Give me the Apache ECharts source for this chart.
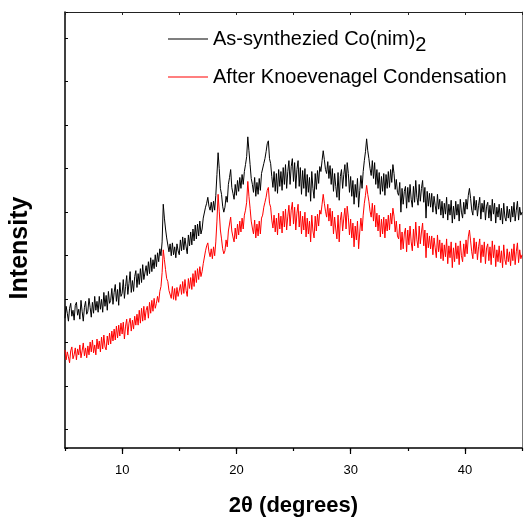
<!DOCTYPE html>
<html>
<head>
<meta charset="utf-8">
<script src="https://cdn.jsdelivr.net/npm/echarts@6/dist/echarts.min.js"></script>
<style>
html,body{margin:0;padding:0;background:#fff;}
#chart{width:528px;height:522px;}
</style>
</head>
<body>
<div id="chart"></div>
<script>
// 2-theta positions (degrees)
const twoTheta = [
5.0,5.1,5.2,5.3,5.4,5.5,5.6,5.7,5.8,5.9,
6.0,6.1,6.2,6.3,6.4,6.5,6.6,6.7,6.8,6.9,
7.0,7.1,7.2,7.3,7.4,7.5,7.6,7.7,7.8,7.9,
8.0,8.1,8.2,8.3,8.4,8.5,8.6,8.7,8.8,8.9,
9.0,9.1,9.2,9.3,9.4,9.5,9.6,9.7,9.8,9.9,
10.0,10.1,10.2,10.3,10.4,10.5,10.6,10.7,10.8,10.9,
11.0,11.1,11.2,11.3,11.4,11.5,11.6,11.7,11.8,11.9,
12.0,12.1,12.2,12.3,12.4,12.5,12.6,12.7,12.8,12.9,
13.0,13.1,13.2,13.3,13.4,13.5,13.6,13.7,13.8,13.9,
14.0,14.1,14.2,14.3,14.4,14.5,14.6,14.7,14.8,14.9,
15.0,15.1,15.2,15.3,15.4,15.5,15.6,15.7,15.8,15.9,
16.0,16.1,16.2,16.3,16.4,16.5,16.6,16.7,16.8,16.9,
17.0,17.1,17.2,17.3,17.4,17.5,17.6,17.7,17.8,17.9,
18.0,18.1,18.2,18.3,18.4,18.5,18.6,18.7,18.8,18.9,
19.0,19.1,19.2,19.3,19.4,19.5,19.6,19.7,19.8,19.9,
20.0,20.1,20.2,20.3,20.4,20.5,20.6,20.7,20.8,20.9,
21.0,21.1,21.2,21.3,21.4,21.5,21.6,21.7,21.8,21.9,
22.0,22.1,22.2,22.3,22.4,22.5,22.6,22.7,22.8,22.9,
23.0,23.1,23.2,23.3,23.4,23.5,23.6,23.7,23.8,23.9,
24.0,24.1,24.2,24.3,24.4,24.5,24.6,24.7,24.8,24.9,
25.0,25.1,25.2,25.3,25.4,25.5,25.6,25.7,25.8,25.9,
26.0,26.1,26.2,26.3,26.4,26.5,26.6,26.7,26.8,26.9,
27.0,27.1,27.2,27.3,27.4,27.5,27.6,27.7,27.8,27.9,
28.0,28.1,28.2,28.3,28.4,28.5,28.6,28.7,28.8,28.9,
29.0,29.1,29.2,29.3,29.4,29.5,29.6,29.7,29.8,29.9,
30.0,30.1,30.2,30.3,30.4,30.5,30.6,30.7,30.8,30.9,
31.0,31.1,31.2,31.3,31.4,31.5,31.6,31.7,31.8,31.9,
32.0,32.1,32.2,32.3,32.4,32.5,32.6,32.7,32.8,32.9,
33.0,33.1,33.2,33.3,33.4,33.5,33.6,33.7,33.8,33.9,
34.0,34.1,34.2,34.3,34.4,34.5,34.6,34.7,34.8,34.9,
35.0,35.1,35.2,35.3,35.4,35.5,35.6,35.7,35.8,35.9,
36.0,36.1,36.2,36.3,36.4,36.5,36.6,36.7,36.8,36.9,
37.0,37.1,37.2,37.3,37.4,37.5,37.6,37.7,37.8,37.9,
38.0,38.1,38.2,38.3,38.4,38.5,38.6,38.7,38.8,38.9,
39.0,39.1,39.2,39.3,39.4,39.5,39.6,39.7,39.8,39.9,
40.0,40.1,40.2,40.3,40.4,40.5,40.6,40.7,40.8,40.9,
41.0,41.1,41.2,41.3,41.4,41.5,41.6,41.7,41.8,41.9,
42.0,42.1,42.2,42.3,42.4,42.5,42.6,42.7,42.8,42.9,
43.0,43.1,43.2,43.3,43.4,43.5,43.6,43.7,43.8,43.9,
44.0,44.1,44.2,44.3,44.4,44.5,44.6,44.7,44.8,44.9,
45.0
];
// As-synthezied Co(nim)2 intensity (a.u.)
const asSynthesized = [
131,143,136,128,141,146,133,139,129,144,
147,134,140,130,149,138,128,142,148,135,
138,151,142,132,147,136,153,139,148,137,
153,140,150,137,157,143,154,139,158,146,
149,161,145,157,165,148,160,144,167,153,
156,170,151,163,174,155,166,178,157,169,
158,173,179,162,176,165,181,167,185,170,
170,184,174,188,176,192,178,190,181,195,
183,197,188,201,194,208,246,232,221,212,
210,198,206,194,207,195,203,192,206,199,
195,210,199,213,200,212,203,196,215,204,
218,205,221,209,225,211,226,214,229,216,
221,232,230,243,247,253,244,240,248,238,
249,240,255,276,298,282,262,256,244,238,
243,254,248,266,273,281,263,257,251,266,
255,270,259,273,262,276,266,279,286,294,
314,300,286,272,266,258,273,254,268,256,
272,260,277,279,287,292,299,307,310,292,
287,274,263,279,259,277,257,281,264,279,
260,283,266,286,262,279,290,266,284,292,
269,288,262,281,290,264,283,256,280,262,
282,254,276,258,273,249,279,262,252,277,
261,280,267,284,279,290,300,291,281,277,
289,272,285,266,282,259,277,264,253,278,
250,274,281,262,276,286,264,288,277,258,
274,254,270,246,266,253,272,243,260,275,
262,279,290,299,312,300,292,282,275,290,
272,288,266,281,262,278,256,274,259,277,
255,276,262,279,263,281,268,286,277,261,
271,258,255,268,238,262,246,259,264,242,
263,248,266,251,243,264,248,270,253,245,
266,249,262,270,248,263,232,259,244,257,
243,257,238,254,245,236,256,241,251,235,
249,232,247,236,253,230,246,235,250,227,
244,231,249,235,246,229,251,238,232,248,
236,251,241,255,262,252,240,235,254,240,
250,234,245,253,231,247,238,250,230,244,
248,232,245,229,251,236,247,227,243,233,
246,230,242,226,247,233,229,244,232,241,
228,244,233,248,229,240,249,230,243,235,
238
];
// After Knoevenagel Condensation intensity (a.u.)
const afterKnoevenagel = [
99,89,97,92,86,98,102,90,94,101,
89,100,94,104,91,98,106,93,101,91,
103,94,107,97,109,96,104,94,110,100,
108,97,112,100,114,102,99,113,104,116,
105,118,108,120,109,123,111,124,113,126,
115,127,110,123,130,114,126,131,118,129,
120,133,124,135,124,139,126,141,128,143,
129,139,143,131,147,136,149,138,151,141,
146,153,147,158,163,177,200,190,180,171,
168,159,161,151,163,150,161,149,162,153,
151,165,155,168,156,170,159,153,171,161,
172,160,176,163,179,167,181,170,183,173,
178,186,188,199,204,207,198,193,201,191,
203,194,208,229,256,239,220,211,201,196,
199,210,203,219,226,233,219,213,208,222,
211,226,215,229,218,232,221,235,240,248,
269,254,242,229,222,216,230,212,226,214,
229,216,232,235,243,248,253,260,263,247,
243,230,222,235,218,232,215,237,221,234,
217,239,223,241,220,234,245,224,240,248,
226,243,220,237,246,223,239,216,234,220,
238,213,232,216,229,208,235,219,212,234,
219,236,224,240,236,246,256,247,239,233,
246,229,242,224,239,216,233,221,211,235,
208,230,238,219,232,242,221,244,233,215,
231,212,227,203,224,210,229,201,218,232,
219,235,247,255,265,256,249,239,233,247,
229,245,223,237,219,235,213,231,216,233,
212,231,219,235,220,237,226,242,234,218,
229,214,211,226,200,218,201,216,222,198,
220,205,224,208,199,221,204,228,210,202,
224,206,218,227,204,220,192,217,202,214,
201,214,195,212,202,192,215,198,210,191,
207,189,205,193,211,186,204,192,208,182,
202,188,207,191,204,185,209,194,188,206,
193,210,196,213,220,209,198,191,212,196,
208,190,203,211,187,205,193,208,186,202,
206,189,203,185,209,192,205,183,200,188,
204,187,199,182,205,190,185,201,188,198,
184,201,189,206,185,198,207,187,200,191,
195
];
const seriesNames = ['As-synthezied Co(nim)2', 'After Knoevenagel Condensation'];
const xTickLabels = [10, 20, 30, 40];

const sans = "'Liberation Sans', Arial, sans-serif";
const chart = echarts.init(document.getElementById('chart'), null, {renderer: 'canvas'});

const pairs = arr => twoTheta.map((x, i) => [x, arr[i]]);

const legendText = {
  fontFamily: sans, fontSize: 20, color: '#000',
  rich: { sub: { fontFamily: sans, fontSize: 20, color: '#000', padding: [12, 0, 0, 0], verticalAlign: 'bottom' } }
};
const legendFmt = n => n === seriesNames[0] ? 'As-synthezied Co(nim){sub|2}' : n;

chart.setOption({
  animation: false,
  backgroundColor: '#fff',
  grid: { left: 62, right: 6, top: 12, bottom: 70, containLabel: false },
  legend: [
    { data: [seriesNames[0]], left: 168, top: 29, padding: 0, orient: 'vertical', icon: 'rect',
      itemWidth: 40, itemHeight: 1, formatter: legendFmt, textStyle: legendText, selectedMode: false },
    { data: [seriesNames[1]], left: 168, top: 67, padding: 0, orient: 'vertical', icon: 'rect',
      itemWidth: 40, itemHeight: 1, formatter: legendFmt, textStyle: legendText, selectedMode: false }
  ],
  xAxis: [
    { type: 'value', min: 5, max: 45, minInterval: 10, maxInterval: 10, position: 'bottom',
      axisLine: { show: true, onZero: false, lineStyle: { color: '#000', width: 1.5 } },
      axisTick: { show: true, inside: false, length: 6, lineStyle: { color: '#000', width: 1.2 } },
      axisLabel: { show: true, margin: 16, fontFamily: sans, fontSize: 13, color: '#000',
        showMinLabel: false, showMaxLabel: false,
        formatter: v => xTickLabels.indexOf(v) >= 0 ? String(v) : '' },
      splitLine: { show: false },
      name: '2θ (degrees)', nameLocation: 'middle', nameGap: 47,
      nameTextStyle: { fontFamily: sans, fontSize: 22, fontWeight: 'bold', color: '#000' } },
    { type: 'value', min: 5, max: 45, interval: 5, position: 'bottom',
      axisLine: { show: false }, axisLabel: { show: false }, splitLine: { show: false },
      axisTick: { show: true, inside: false, length: 3, lineStyle: { color: '#000', width: 1.2 } } },
    { type: 'value', min: 5, max: 45, interval: 5, position: 'top',
      axisLine: { show: true, onZero: false, lineStyle: { color: '#222', width: 1 } },
      axisLabel: { show: false }, splitLine: { show: false },
      axisTick: { show: true, inside: true, length: 3, lineStyle: { color: '#222', width: 1 } } }
  ],
  yAxis: [
    { type: 'value', min: 0, max: 440, position: 'left',
      axisLine: { show: true, onZero: false, lineStyle: { color: '#000', width: 1.5 } },
      axisTick: { show: false }, axisLabel: { show: false }, splitLine: { show: false },
      name: 'Intensity', nameLocation: 'middle', nameGap: 32,
      nameTextStyle: { fontFamily: sans, fontSize: 25, fontWeight: 'bold', color: '#000', padding: [0, 36, 0, 0] } },
    { type: 'value', min: -0.426, max: 9.6, minInterval: 1, maxInterval: 1, position: 'left',
      axisLine: { show: false }, axisLabel: { show: false }, splitLine: { show: false },
      axisTick: { show: true, inside: true, length: 3, lineStyle: { color: '#000', width: 1 } } },
    { type: 'value', min: 0, max: 440, position: 'right',
      axisLine: { show: true, onZero: false, lineStyle: { color: '#777', width: 1 } },
      axisTick: { show: false }, axisLabel: { show: false }, splitLine: { show: false } }
  ],
  series: [
    { name: seriesNames[0], type: 'line', xAxisIndex: 0, yAxisIndex: 0, data: pairs(asSynthesized),
      showSymbol: false, symbol: 'none', lineStyle: { color: '#000', width: 1 }, itemStyle: { color: '#000' } },
    { name: seriesNames[1], type: 'line', xAxisIndex: 0, yAxisIndex: 0, data: pairs(afterKnoevenagel),
      showSymbol: false, symbol: 'none', lineStyle: { color: '#ff0000', width: 1 }, itemStyle: { color: '#ff0000' } }
  ]
});
</script>
</body>
</html>
